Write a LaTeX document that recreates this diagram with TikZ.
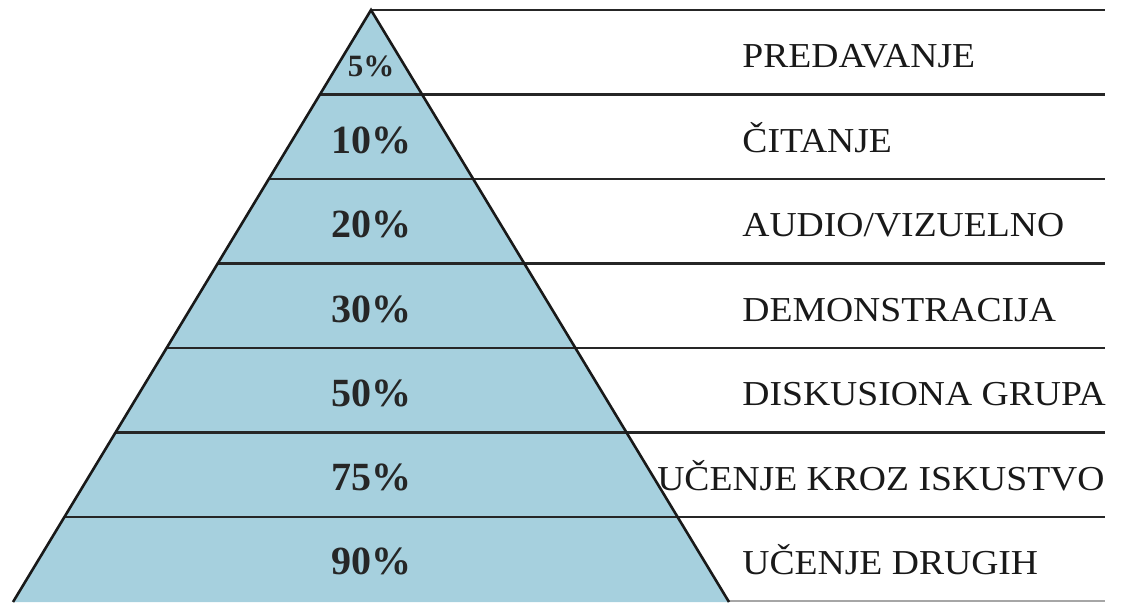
\documentclass[tikz,border=0pt]{standalone}
\usepackage{fontspec}
\setmainfont{Liberation Serif}[FakeStretch=1.075]
\newfontfamily\pctfont{Liberation Serif}[FakeStretch=1.0]
\definecolor{pyrblue}{RGB}{166,208,222}
\begin{document}
\begin{tikzpicture}[x=0.5pt,y=-0.5pt,
  rule/.style={line width=1.3pt,draw=black!85},
  edge/.style={line width=1.3pt,draw=black!90},
  lbl/.style={anchor=base west,inner sep=0pt,font=\fontsize{17.5}{20}\selectfont,text=black!90},
  pct/.style={anchor=base,inner sep=0pt,font=\pctfont\bfseries\fontsize{20}{24}\selectfont,text=black!85}]
\useasboundingbox (0,0) rectangle (1122,602);
\coordinate (apex) at (371,10);
\coordinate (bl) at (13,602);
\coordinate (br) at (729,602);
\fill[pyrblue] (apex) -- (bl) -- (br) -- cycle;
% horizontal rules
\foreach \y/\n in {94.5/1,179/2,263.5/3,348/4,432.5/5,517/6}{
  \pgfmathsetmacro{\xl}{371-0.6047*(\y-10)}
  \coordinate (L\n) at (\xl,\y);
  \coordinate (R\n) at (1105,\y);
  \draw[rule] (L\n) -- (R\n);
}
\coordinate (R0) at (1105,10);
\draw[rule] (apex) -- (R0);
\coordinate (B1) at (1105,601);
\draw[line width=0.8pt,draw=black!35] (br) ++(0,-1) -- (B1);
\draw[edge] (bl) -- (apex) -- (br);
% percentages
\node[pct,font=\pctfont\bfseries\fontsize{15.5}{18}\selectfont] (p1) at (371,76) {5\%};
\node[pct] (p2) at (371,153) {10\%};
\node[pct] (p3) at (371,237.5) {20\%};
\node[pct] (p4) at (371,322) {30\%};
\node[pct] (p5) at (371,406) {50\%};
\node[pct] (p6) at (371,490.5) {75\%};
\node[pct] (p7) at (371,574) {90\%};
% labels
\node[lbl] (t1) at (742,67.5) {PREDAVANJE};
\node[lbl] (t2) at (742,152) {ČITANJE};
\node[lbl] (t3) at (742,236.5) {AUDIO/VIZUELNO};
\node[lbl] (t4) at (742,321) {DEMONSTRACIJA};
\node[lbl] (t5) at (742,405.5) {DISKUSIONA GRUPA};
\node[lbl,anchor=base east] (t6) at (1105,490) {UČENJE KROZ ISKUSTVO};
\node[lbl] (t7) at (742,574) {UČENJE DRUGIH};
\end{tikzpicture}
\end{document}
